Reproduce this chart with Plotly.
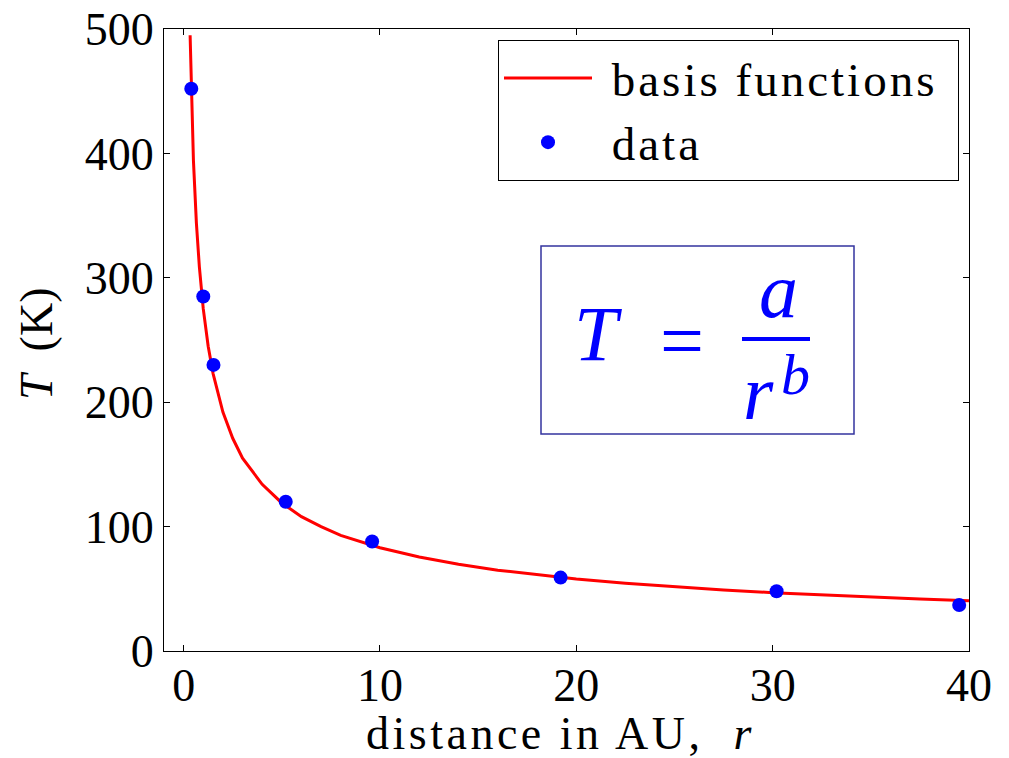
import plotly.graph_objects as go

# --- data ---
r_data = [0.39, 1.0, 1.52, 5.2, 9.6, 19.2, 30.2, 39.5]
T_data = [452, 285, 230, 120, 88, 59, 48, 37]

r_curve = [0.33, 0.39, 0.5, 0.65, 0.8, 1.0, 1.25, 1.5, 2.0, 2.5, 3.0, 4.0, 5.0,
           6.0, 7.0, 8.0, 10.0, 12.0, 14.0, 16.0, 18.0, 20.0, 22.5, 25.0,
           27.5, 30.0, 32.5, 35.0, 37.5, 40.0]
T_curve = [495, 450, 394, 344, 309, 275, 245, 223, 192, 171, 155, 134, 119,
           108, 100, 93, 83, 75.5, 69.7, 65, 61.2, 57.9, 54.5, 51.6,
           49.1, 46.9, 45.0, 43.3, 41.8, 40.4]

x_ticks = [0, 10, 20, 30, 40]
y_ticks = [0, 100, 200, 300, 400, 500]

FONT = "Liberation Serif"
OFF = 8                      # page (body) margin of the html page
W, H = 1009 - OFF, 758 - OFF
# plot area in page pixels: x 164..969, y 29..651
PX0, PX1, PY0, PY1 = 164, 969, 29, 651
L, T = PX0 - OFF, PY0 - OFF
R, B = W - (PX1 - OFF), H - (PY1 - OFF)
PW, PH = PX1 - PX0, PY1 - PY0


def px(x):
    return (x - PX0) / PW


def py(y):
    return (PY1 - y) / PH


fig = go.Figure()
fig.add_trace(go.Scatter(
    x=r_curve, y=T_curve, mode="lines",
    line=dict(color="#ff0000", width=3),
    name='<span style="letter-spacing:3px"> basis functions </span>'))
fig.add_trace(go.Scatter(
    x=r_data, y=T_data, mode="markers",
    marker=dict(color="#0000ff", size=14),
    name='<span style="letter-spacing:3px"> data</span>'))

axis_common = dict(
    showline=True, linecolor="black", linewidth=1, mirror="ticks",
    ticks="inside", ticklen=6, tickcolor="black", tickwidth=1,
    showgrid=False, zeroline=False, ticklabeloverflow="allow", automargin=False,
    tickfont=dict(family=FONT, size=46, color="black"),
)
fig.update_xaxes(range=[-1, 40], tickvals=x_ticks, ticklabelstandoff=-6, **axis_common)
fig.update_yaxes(range=[0, 500], tickvals=y_ticks, **axis_common)

# equation box
fig.add_shape(type="rect", xref="paper", yref="paper",
              x0=px(541), x1=px(854), y0=py(434), y1=py(246),
              line=dict(color="#33339f", width=1.5), fillcolor="white", layer="above")
# fraction bar
fig.add_shape(type="line", xref="paper", yref="paper",
              x0=px(742), x1=px(810), y0=py(339), y1=py(339),
              line=dict(color="#0000ff", width=4), layer="above")

eq_font = dict(family=FONT, size=78, color="#0000ff")
annotations = [
    dict(text="<i>T</i>", x=px(598), y=py(333), font=eq_font),
    dict(text="=", x=px(682), y=py(340), font=eq_font),
    dict(text="<i>a</i>", x=px(778), y=py(290), font=eq_font),
    dict(text="<i>r</i>", x=px(758), y=py(392), font=eq_font),
    dict(text="<i>b</i>", x=px(795), y=py(374), font=dict(family=FONT, size=58, color="#0000ff")),
    dict(text='<span style="letter-spacing:3.5px">distance in AU,  <i>r</i></span>',
         x=px(560), y=py(733), font=dict(family=FONT, size=46, color="black")),
    dict(text="<i>T</i>  (K)", x=px(37), y=py(344), textangle=-90,
         font=dict(family=FONT, size=46, color="black")),
]
for a in annotations:
    a.update(xref="paper", yref="paper", showarrow=False,
             xanchor="center", yanchor="middle")
fig.update_layout(annotations=annotations)

fig.update_layout(
    width=W, height=H,
    margin=dict(l=L, r=R, t=T, b=B, autoexpand=False),
    paper_bgcolor="white", plot_bgcolor="white",
    font=dict(family=FONT, color="black"),
    legend=dict(x=px(498), y=py(40), xanchor="left", yanchor="top",
                bordercolor="black", borderwidth=1, bgcolor="white",
                font=dict(family=FONT, size=47, color="black"),
                itemwidth=88, tracegroupgap=0),
)

fig.write_html("out.html")
